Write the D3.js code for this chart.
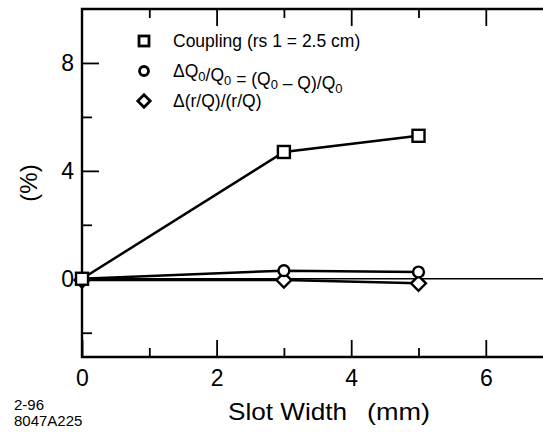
<!DOCTYPE html>
<html>
<head>
<meta charset="utf-8">
<script src="https://cdn.jsdelivr.net/npm/d3@7"></script>
<style>
  body { margin: 0; background: #fff; }
  svg { display: block; font-family: "Liberation Sans", Arial, sans-serif; }
  .axis path { display: none; }
  .axis line { stroke: #000; stroke-width: 1.8px; }
  .axis text { font-size: 23px; fill: #000; }
</style>
</head>
<body>
<svg id="chart" width="543" height="432"></svg>
<script>
// data
var slotWidth = [0, 3, 5];
var coupling = [0, 4.7, 5.3];
var dQ0 = [0, 0.3, 0.25];
var dRQ = [-0.05, -0.05, -0.17];

var xMajor = [0, 2, 4, 6];
var xMinor = [1, 3, 5];
var yMajor = [0, 4, 8];
var yMinor = [-2, 2, 6];

var W = 543, H = 432;
var svg = d3.select("#chart");

var x = d3.scaleLinear().domain([0, 7]).range([82, 82 + 7 * 67.3]);
var y = d3.scaleLinear().domain([-2.9, 10]).range([357, 9]);

// axes (ticks point inward)
svg.append("g").attr("class", "axis")
    .attr("transform", "translate(0," + y(-2.9) + ")")
    .call(d3.axisBottom(x).tickValues(xMajor).tickSize(-17).tickPadding(13).tickFormat(d3.format("d")));
svg.append("g").attr("class", "axis")
    .attr("transform", "translate(0," + y(-2.9) + ")")
    .call(d3.axisBottom(x).tickValues(xMinor).tickSize(-9).tickFormat(""));
svg.append("g").attr("class", "axis")
    .attr("transform", "translate(0," + y(10) + ")")
    .call(d3.axisTop(x).tickValues(xMajor.filter(d => d > 0)).tickSize(-17).tickFormat(""));
svg.append("g").attr("class", "axis")
    .attr("transform", "translate(0," + y(10) + ")")
    .call(d3.axisTop(x).tickValues(xMinor).tickSize(-9).tickFormat(""));
svg.append("g").attr("class", "axis")
    .attr("transform", "translate(" + x(0) + ",0)")
    .call(d3.axisLeft(y).tickValues(yMajor).tickSize(-17).tickPadding(8).tickFormat(d3.format("d")));
svg.append("g").attr("class", "axis")
    .attr("transform", "translate(" + x(0) + ",0)")
    .call(d3.axisLeft(y).tickValues(yMinor).tickSize(-10).tickFormat(""));

// frame
svg.append("path")
    .attr("d", "M" + W + "," + y(10) + "H" + x(0) + "V" + y(-2.9) + "H" + W)
    .attr("fill", "none").attr("stroke", "#000").attr("stroke-width", 2.4);

// zero line
svg.append("line")
    .attr("x1", x(0)).attr("x2", W)
    .attr("y1", y(0)).attr("y2", y(0))
    .attr("stroke", "#000").attr("stroke-width", 1.3);

var line = d3.line().x(d => x(d[0])).y(d => y(d[1]));
var series = [
    {vals: dRQ, shape: "diamond"},
    {vals: dQ0, shape: "circle"},
    {vals: coupling, shape: "square"}
];

function marker(g, shape, cx, cy, s) {
    if (shape == "square") {
        g.append("rect").attr("x", cx - s / 2).attr("y", cy - s / 2)
            .attr("width", s).attr("height", s);
    } else if (shape == "circle") {
        g.append("circle").attr("cx", cx).attr("cy", cy).attr("r", s * 0.45);
    } else {
        var r = s * 0.62;
        g.append("path").attr("d", "M" + cx + "," + (cy - r) + "L" + (cx + r) + "," + cy +
            "L" + cx + "," + (cy + r) + "L" + (cx - r) + "," + cy + "Z");
    }
}

series.forEach(function(s) {
    var pts = slotWidth.map((d, i) => [d, s.vals[i]]);
    svg.append("path").attr("d", line(pts))
        .attr("fill", "none").attr("stroke", "#000").attr("stroke-width", 2.5);
});
series.forEach(function(s) {
    var g = svg.append("g").attr("fill", "#fff").attr("stroke", "#000").attr("stroke-width", 2.4);
    slotWidth.forEach(function(d, i) {
        marker(g, s.shape, x(d), y(s.vals[i]), 12);
    });
});

// legend
var legend = svg.append("g").attr("font-size", 17.5);
var rows = [
    {shape: "square", y: 41},
    {shape: "circle", y: 71},
    {shape: "diamond", y: 101}
];
rows.forEach(function(r) {
    var g = legend.append("g").attr("fill", "#fff").attr("stroke", "#000").attr("stroke-width", 2.8);
    marker(g, r.shape, 144, r.y, 10);
});
legend.append("text").attr("x", 173).attr("y", 47).text("Coupling (rs 1 = 2.5 cm)");
var t2 = legend.append("text").attr("x", 173).attr("y", 77);
function sub(t, s) {
    t.append("tspan").attr("font-size", 13).attr("dy", 4).text(s);
    t.append("tspan").attr("dy", -4).text("");
}
t2.append("tspan").text("ΔQ");
sub(t2, "0");
t2.append("tspan").text("/Q");
sub(t2, "0");
t2.append("tspan").text(" = (Q");
sub(t2, "0");
t2.append("tspan").text(" – Q)/Q");
sub(t2, "0");
legend.append("text").attr("x", 173).attr("y", 107).text("Δ(r/Q)/(r/Q)");

// axis titles
svg.append("text").attr("x", 228).attr("y", 420).attr("font-size", 24)
    .attr("textLength", 119).attr("lengthAdjust", "spacingAndGlyphs").text("Slot Width");
svg.append("text").attr("x", 367).attr("y", 420).attr("font-size", 24)
    .attr("textLength", 63).attr("lengthAdjust", "spacingAndGlyphs").text("(mm)");
svg.append("text").attr("transform", "translate(37,183) rotate(-90)")
    .attr("text-anchor", "middle").attr("font-size", 24).text("(%)");

// figure id
svg.append("text").attr("x", 14).attr("y", 410).attr("font-size", 15).text("2-96");
svg.append("text").attr("x", 14).attr("y", 426).attr("font-size", 15).text("8047A225");
</script>
</body>
</html>
